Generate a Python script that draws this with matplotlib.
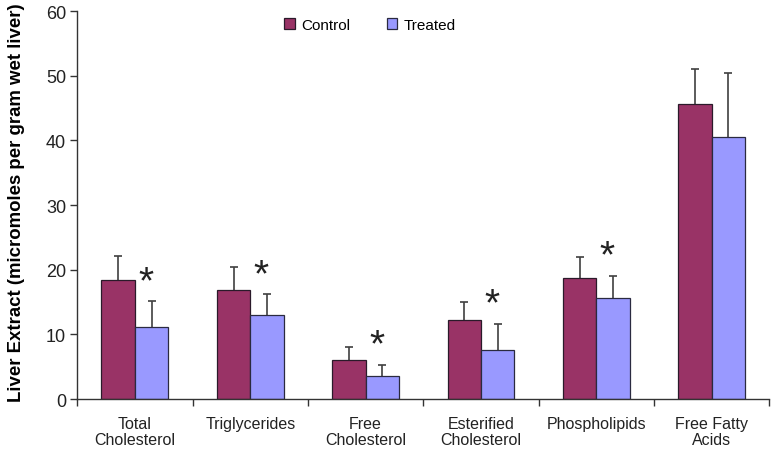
import matplotlib
matplotlib.use("Agg")
import matplotlib.pyplot as plt
import numpy as np

plt.rcParams['font.family'] = ['Liberation Sans', 'DejaVu Sans']

# data
categories = ["Total\nCholesterol", "Triglycerides", "Free\nCholesterol",
              "Esterified\nCholesterol", "Phospholipids", "Free Fatty\nAcids"]
control = [18.4, 16.9, 6.1, 12.3, 18.7, 45.7]
control_err = [3.7, 3.6, 1.9, 2.7, 3.3, 5.3]
treated = [11.1, 13.0, 3.6, 7.6, 15.6, 40.6]
treated_err = [4.0, 3.2, 1.7, 4.0, 3.5, 9.9]
significant = [True, True, True, True, True, False]

fig = plt.figure(figsize=(7.76, 4.52), dpi=100)
ax = fig.add_axes([0.0995, 0.115, 0.892, 0.858])

x = np.arange(len(categories))
w = 0.29

err_style = dict(ecolor='#404040', elinewidth=1.2, capsize=3, capthick=1.2, zorder=1)
b1 = ax.bar(x - w/2, control, w, color='#993366', edgecolor='#2a1a2a', linewidth=0.9,
            yerr=[np.zeros(len(control)), control_err], error_kw=err_style,
            label='Control', zorder=2)
b2 = ax.bar(x + w/2, treated, w, color='#9999ff', edgecolor='#2a2a40', linewidth=0.9,
            yerr=[np.zeros(len(treated)), treated_err], error_kw=err_style,
            label='Treated', zorder=2)
# only the upper caps are wanted
for b in (b1, b2):
    b.errorbar.lines[1][0].set_visible(False)

# significance stars over the treated bars
for i, sig in enumerate(significant):
    if sig:
        top = treated[i] + treated_err[i]
        ax.annotate('*', xy=(x[i] + w/2 - 0.05, top), xytext=(0, 1),
                    textcoords='offset points', ha='center', va='bottom',
                    fontsize=28, color='#222222')

ax.set_xlim(-0.5, len(categories) - 0.5)
ax.set_ylim(0, 60)
ax.set_yticks(np.arange(0, 61, 10))
ax.set_xticks(x)
ax.set_xticklabels(categories, fontsize=11.5, color='#222222', linespacing=1.15)
ax.set_xticks(np.arange(-0.5, len(categories), 1), minor=True)
ax.tick_params(axis='x', which='major', length=0, pad=12)
ax.tick_params(axis='x', which='minor', length=5, color='#333333', width=1)
ax.tick_params(axis='y', labelsize=13, length=5, color='#333333', width=1,
               labelcolor='#222222', pad=3)

for s in ['top', 'right']:
    ax.spines[s].set_visible(False)
for s in ['left', 'bottom']:
    ax.spines[s].set_color('#333333')
    ax.spines[s].set_linewidth(1)

ax.set_ylabel('Liver Extract (micromoles per gram wet liver)', fontsize=13.4,
              fontweight='bold')
ax.yaxis.set_label_coords(-0.076, 0.51)

ax.legend(loc='upper left', bbox_to_anchor=(0.279, 1.018), ncol=2, frameon=False,
          fontsize=11, handlelength=0.7, handleheight=0.7, columnspacing=2.4,
          handletextpad=0.4)

fig.savefig('out.png', dpi=100)
